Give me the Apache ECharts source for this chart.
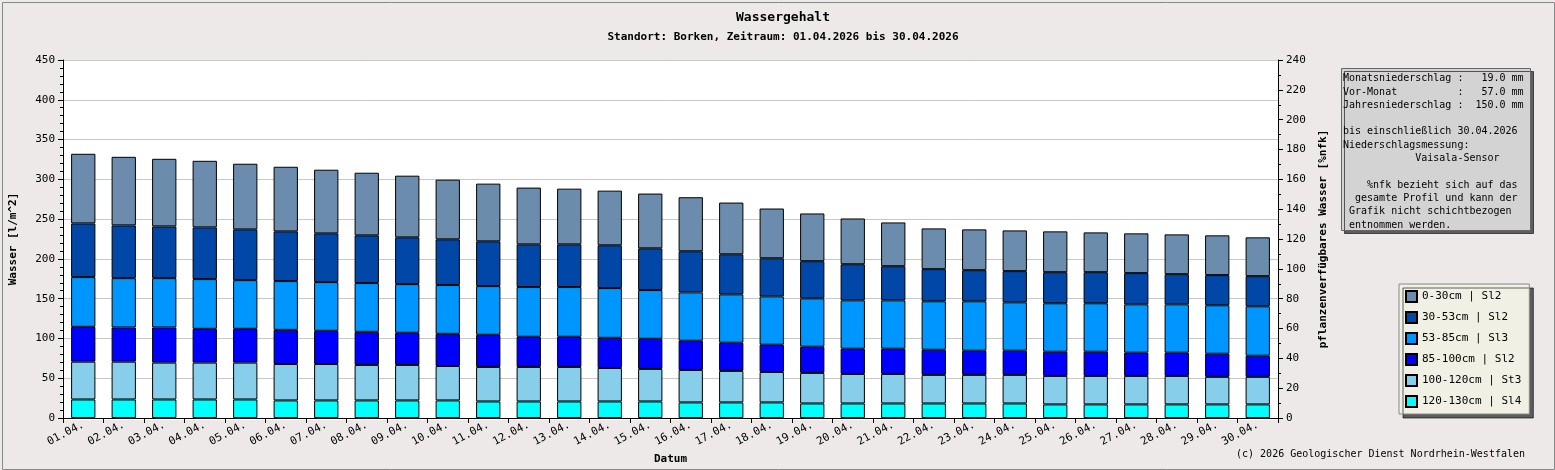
<!DOCTYPE html>
<html>
<head>
<meta charset="utf-8">
<script src="https://cdn.jsdelivr.net/npm/echarts@6/dist/echarts.min.js"></script>
<style>
html,body{margin:0;padding:0;background:#ece9e8;}
#chart{width:1555px;height:470px;}
</style>
</head>
<body>
<div id="chart"></div>
<script>
// Datum
const days = ['01.04.','02.04.','03.04.','04.04.','05.04.','06.04.','07.04.','08.04.','09.04.','10.04.',
  '11.04.','12.04.','13.04.','14.04.','15.04.','16.04.','17.04.','18.04.','19.04.','20.04.',
  '21.04.','22.04.','23.04.','24.04.','25.04.','26.04.','27.04.','28.04.','29.04.','30.04.'];

// kumulierte Obergrenzen je Schicht (l/m^2)
const top120 = [23.3,23.3,23.3,23.3,23.3,22.1,22.1,22.1,22.1,22.1,20.8,20.8,20.8,20.8,20.8,
  19.6,19.6,19.6,18.3,18.3,18.3,18.3,18.3,18.3,17.1,17.1,17.1,17.1,17.1,17.1];
const top100 = [70.8,70.8,69.6,69.6,69.6,67.9,67.9,66.7,66.7,65.4,64.2,64.2,64.2,62.9,61.7,
  60.4,59.2,57.9,56.7,55.4,55.4,54.2,54.2,54.2,52.9,52.9,52.9,52.9,51.7,51.7];
const top85 = [114.6,113.8,113.8,112.1,112.1,110.8,109.6,108.3,107.1,105.8,104.6,102.1,102.1,100.8,99.6,
  97.1,94.6,92.1,89.6,87.1,87.1,85.8,84.6,84.6,83.3,83.3,82.1,82.1,80.8,78.3];
const top53 = [177.1,175.8,175.8,174.6,173.3,172.1,170.8,169.6,168.3,167.1,165.8,164.6,164.6,163.3,160.8,
  157.9,155.4,152.9,150.4,147.9,147.9,146.7,146.7,145.4,144.2,144.2,142.9,142.9,141.7,140.4];
const top30 = [244.6,242.1,240.8,239.6,237.1,234.6,232.1,229.6,227.1,224.6,222.1,218.3,218.3,217.1,213.3,
  209.6,205.8,200.8,197.1,193.3,190.8,187.1,185.8,184.6,183.3,183.3,182.1,180.8,179.6,178.3];
const top0 = [332.1,328.3,325.8,323.3,319.6,315.8,312.1,308.3,304.6,299.6,294.6,289.6,288.3,285.8,282.1,
  277.5,270.8,263.3,257.1,250.8,245.8,238.3,237.1,235.8,234.6,233.3,232.1,230.8,229.6,227.1];

const layerNames = ['120-130cm | Sl4','100-120cm | St3','85-100cm | Sl2','53-85cm | Sl3','30-53cm | Sl2','0-30cm | Sl2'];
const layerColors = ['#00ffff','#87ceeb','#0000ff','#0096ff','#0047a8','#6c8cad'];

const infoLines = [
  'Monatsniederschlag :   19.0 mm',
  'Vor-Monat          :   57.0 mm',
  'Jahresniederschlag :  150.0 mm',
  '',
  'bis einschließlich 30.04.2026',
  'Niederschlagsmessung:',
  '            Vaisala-Sensor',
  '',
  '    %nfk bezieht sich auf das',
  '  gesamte Profil und kann der',
  ' Grafik nicht schichtbezogen',
  ' entnommen werden.'
];

const FONT = 'DejaVu Sans Mono';
const tops = [top120, top100, top85, top53, top30, top0];

const series = tops.map((arr, i) => ({
  name: layerNames[i],
  type: 'bar',
  stack: 'w',
  barCategoryGap: '40%',
  itemStyle: { color: layerColors[i], borderColor: '#000', borderWidth: 1 },
  data: arr.map((v, k) => +(v - (i ? tops[i - 1][k] : 0)).toFixed(1))
}));

const chart = echarts.init(document.getElementById('chart'));
chart.setOption({
  backgroundColor: '#ece9e8',
  animation: false,
  textStyle: { fontFamily: FONT },
  title: {
    text: 'Wassergehalt',
    subtext: 'Standort: Borken, Zeitraum: 01.04.2026 bis 30.04.2026',
    left: 778, top: 6, textAlign: 'center', itemGap: 8,
    textStyle: { fontFamily: FONT, fontSize: 13, fontWeight: 'bold', color: '#000' },
    subtextStyle: { fontFamily: FONT, fontSize: 11, fontWeight: 'bold', color: '#000' }
  },
  legend: {
    orient: 'vertical', left: 1399, top: 284, width: 130,
    data: layerNames.slice().reverse(),
    icon: 'rect', itemWidth: 11, itemHeight: 11, itemGap: 8,
    backgroundColor: '#f0f0e4', borderColor: '#888', borderWidth: 1,
    padding: [6, 8, 6, 6],
    shadowColor: 'rgba(0,0,0,0.6)', shadowOffsetX: 4, shadowOffsetY: 4, shadowBlur: 0,
    textStyle: { fontFamily: FONT, fontSize: 11, color: '#000' }
  },
  grid: { left: 62, right: 277, top: 60, bottom: 50 },
  xAxis: {
    type: 'category', data: days,
    name: 'Datum', nameLocation: 'middle', nameGap: 36,
    nameTextStyle: { fontFamily: FONT, fontSize: 11, fontWeight: 'bold' },
    axisLine: { lineStyle: { color: '#000' } },
    axisTick: { show: true, lineStyle: { color: '#000' } },
    axisLabel: { rotate: 28, color: '#000', fontFamily: FONT, fontSize: 11, margin: 6 }
  },
  yAxis: [{
    type: 'value', min: 0, max: 450, interval: 50,
    name: 'Wasser [l/m^2]', nameLocation: 'middle', nameGap: 44,
    nameTextStyle: { fontFamily: FONT, fontSize: 11, fontWeight: 'bold' },
    axisLine: { show: true, lineStyle: { color: '#000' } },
    axisTick: { show: true, lineStyle: { color: '#000' } },
    minorTick: { show: true, splitNumber: 5, length: 3, lineStyle: { color: '#000' } },
    axisLabel: { color: '#000', fontFamily: FONT, fontSize: 11 },
    splitLine: { lineStyle: { color: '#c8c8c8' } }
  }, {
    type: 'value', min: 0, max: 240, interval: 20,
    name: 'pflanzenverfügbares Wasser [%nfk]', nameLocation: 'middle', nameGap: 40,
    nameRotate: 90,
    nameTextStyle: { fontFamily: FONT, fontSize: 11, fontWeight: 'bold' },
    axisLine: { show: true, lineStyle: { color: '#000' } },
    axisTick: { show: true, lineStyle: { color: '#000' } },
    minorTick: { show: true, splitNumber: 2, length: 3, lineStyle: { color: '#000' } },
    axisLabel: { color: '#000', fontFamily: FONT, fontSize: 11 },
    splitLine: { show: false }
  }],
  graphic: [
    { type: 'rect', left: 0, top: 0, shape: { width: 1552, height: 467 },
      style: { fill: 'none', stroke: '#888', lineWidth: 1 }, silent: true },
    { type: 'rect', left: 62, top: 60, z: -1, shape: { width: 1216, height: 360 },
      style: { fill: '#fff' }, silent: true },
    { type: 'rect', left: 1341, top: 68, shape: { width: 189, height: 162 },
      style: { fill: '#d3d3d3', stroke: '#666', lineWidth: 1,
        shadowColor: 'rgba(0,0,0,0.6)', shadowOffsetX: 3, shadowOffsetY: 3 } },
    { type: 'text', left: 1343, top: 72,
      style: { text: infoLines.join('\n'), font: '10px "DejaVu Sans Mono"', lineHeight: 13.3, fill: '#000' } },
    { type: 'text', right: 30, top: 449,
      style: { text: '(c) 2026 Geologischer Dienst Nordrhein-Westfalen', font: '10px "DejaVu Sans Mono"', fill: '#000' } }
  ],
  series: series
});
</script>
</body>
</html>
